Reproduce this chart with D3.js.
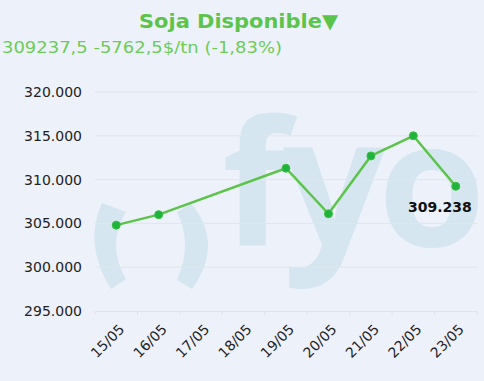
<!DOCTYPE html>
<html><head><meta charset="utf-8">
<script src="https://cdn.jsdelivr.net/npm/d3@7"></script>
<style>
html,body{margin:0;padding:0;background:#edf1fa;}
svg{display:block;}
</style></head>
<body>
<script>
const categories = ["15/05","16/05","17/05","18/05","19/05","20/05","21/05","22/05","23/05"];
const values = [304800, 306000, null, null, 311300, 306100, 312700, 315000, 309238];
const yTicks = [295000, 300000, 305000, 310000, 315000, 320000];
const title = "Soja Disponible▼";
const subtitle = "309237,5 -5762,5$/tn (-1,83%)";
const lastLabel = "309.238";

const W = 484, H = 381;
const FONT = "'DejaVu Sans', Verdana, sans-serif";
const svg = d3.select("body").append("svg").attr("width", W).attr("height", H);
svg.append("rect").attr("width", W).attr("height", H).attr("fill", "#edf1fa");

const x = d3.scaleBand().domain(categories).range([95, 477]).padding(0);
const y = d3.scaleLinear().domain([295000, 320000]).range([311, 92]);

// watermark (logo)
const WM = "#d5e6f0";
const wm = svg.append("g").attr("fill", WM);
wm.append("path").attr("d", "M102,203 Q83,244 111,289 L126,279 Q106,244.5 126,212 Z");
wm.append("path").attr("d", "M191,203 Q224.5,244 192,289 L177,280 Q193,244 177,212 Z");
const wt = wm.append("g").attr("font-family", "'Open Sans', sans-serif").attr("font-weight", 700);
wt.append("text").attr("x", 222).attr("y", 246).attr("font-size", 174).text("f");
wt.append("text").attr("x", 283).attr("y", 246).attr("font-size", 180).text("y");
wt.append("text").attr("x", 378).attr("y", 246).attr("font-size", 174).text("o");

// gridlines
svg.append("g").selectAll("line").data(yTicks.slice(1)).join("line")
  .attr("x1", 95).attr("x2", 478).attr("y1", d => y(d)).attr("y2", d => y(d))
  .attr("stroke", "#e3e5e8").attr("stroke-width", 1);

// y axis labels
svg.append("g").selectAll("text").data(yTicks).join("text")
  .attr("x", 82).attr("y", d => y(d) + 5)
  .attr("text-anchor", "end").attr("font-family", FONT)
  .attr("font-size", 14).attr("fill", "#222")
  .text(d => d3.format(".3f")(d/1000));

// x axis
const xa = svg.append("g").attr("transform", `translate(0,${y(295000)})`)
  .call(d3.axisBottom(x).tickSize(0).tickFormat(d => d));
xa.select(".domain").attr("stroke", "#e0e2e5");
xa.selectAll(".tick text")
  .attr("font-family", FONT).attr("font-size", 14).attr("fill", "#222")
  .attr("text-anchor", "end").attr("dy", 0).attr("dx", 0)
  .attr("transform", "translate(7,17) rotate(-45)");
const bounds = categories.map(c => x(c)).concat([x(categories[categories.length-1]) + x.bandwidth()]);
svg.append("g").selectAll("line").data(bounds).join("line")
  .attr("x1", d => d).attr("x2", d => d).attr("y1", y(295000)).attr("y2", y(295000) + 4)
  .attr("stroke", "#e0e2e5");

// line
const pts = categories.map((c, i) => ({c, v: values[i]})).filter(d => d.v != null);
const line = d3.line().x(d => x(d.c) + x.bandwidth()/2).y(d => y(d.v));
svg.append("path").datum(pts).attr("d", line).attr("fill", "none")
  .attr("stroke", "#5cc44a").attr("stroke-width", 2.5).attr("stroke-linejoin", "round");
svg.append("g").selectAll("circle").data(pts).join("circle")
  .attr("cx", d => x(d.c) + x.bandwidth()/2).attr("cy", d => y(d.v)).attr("r", 4)
  .attr("fill", "#1db33c").attr("stroke", "#3fbe44").attr("stroke-width", 1);

// last label
const last = pts[pts.length-1];
svg.append("text").attr("x", x(last.c) + x.bandwidth()/2 + 16).attr("y", y(last.v) + 26)
  .attr("text-anchor", "end").attr("font-family", FONT)
  .attr("font-size", 14).attr("font-weight", "bold").attr("fill", "#111")
  .text(lastLabel);

// titles
svg.append("text").attr("x", 139).attr("y", 28)
  .attr("font-family", FONT).attr("font-size", 20).attr("font-weight", "bold")
  .attr("textLength", 199).attr("lengthAdjust", "spacingAndGlyphs")
  .attr("fill", "#5cc44a").text(title);
svg.append("text").attr("x", 2).attr("y", 53)
  .attr("font-family", FONT).attr("font-size", 16)
  .attr("textLength", 280).attr("lengthAdjust", "spacingAndGlyphs")
  .attr("fill", "#6ccc55").text(subtitle);
</script>
</body></html>
